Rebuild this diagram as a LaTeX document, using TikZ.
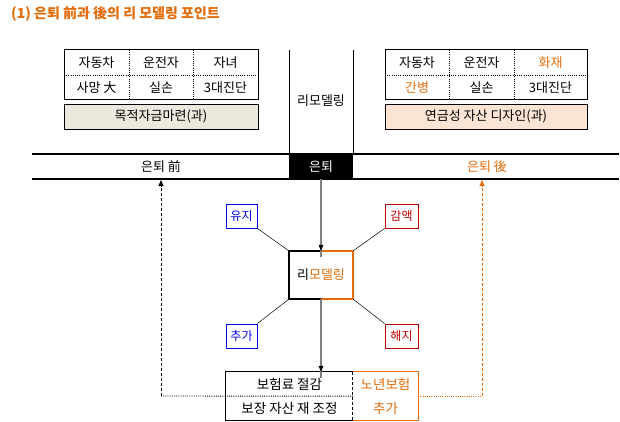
\documentclass[tikz,border=0pt]{standalone}
\usepackage{fontspec}
\setmainfont{Noto Sans CJK KR}
\usetikzlibrary{arrows.meta}
\definecolor{orng}{RGB}{228,108,10}
\definecolor{blu}{RGB}{0,0,230}
\definecolor{rd}{RGB}{192,0,0}
\definecolor{beige}{RGB}{236,233,220}
\definecolor{peach}{RGB}{252,228,212}
\definecolor{gline}{RGB}{128,128,128}
\tikzset{
  every node/.style={font=\fontsize{13}{15}\selectfont, inner sep=0pt},
  big/.style={font=\fontsize{13.5}{15}\selectfont},
  cell/.style={minimum width=64pt, minimum height=25pt},
  band/.style={draw=black, line width=0.9pt, minimum width=194pt, minimum height=25pt},
  tag/.style={draw, line width=0.9pt, minimum width=31pt, minimum height=24pt, font=\fontsize{12}{14}\selectfont},
  thin/.style={line width=0.5pt},
  tip/.style={-{Triangle[length=6pt,width=5pt]}},
  dsh/.style={dash pattern=on 3pt off 2pt, line width=0.8pt},
  dtt/.style={dash pattern=on 1pt off 1.2pt, line width=0.9pt},
}
\begin{document}
\begin{tikzpicture}[x=1pt,y=-1pt]
\useasboundingbox (0,0) rectangle (620,422);
% title
\node[anchor=west, font=\fontsize{14}{16}\selectfont\bfseries, text=orng] (title) at (11,14) {(1)\ 은퇴 前과 後의 리 모델링 포인트};

% left table
\node[cell] (l11) at (96.5,62.5) {자동차};
\node[cell] (l12) at (161,62.5) {운전자};
\node[cell] (l13) at (225.5,62.5) {자녀};
\node[cell] (l21) at (96.5,87.5) {사망 大};
\node[cell] (l22) at (161,87.5) {실손};
\node[cell] (l23) at (225.5,87.5) {3대진단};
\draw[line width=1pt] (64,50) rectangle (258,100);
\draw[dtt] (64,75) -- (258,75);
\draw[dtt] (129,50) -- (129,100);
\draw[dtt] (193,50) -- (193,100);
\node[band, fill=beige] (lband) at (161,116.5) {목적자금마련(과)};

% right table
\node[cell] (r11) at (417,62.5) {자동차};
\node[cell] (r12) at (481.5,62.5) {운전자};
\node[cell, text=orng] (r13) at (550.5,62.5) {화재};
\node[cell, text=orng] (r21) at (417,87.5) {간병};
\node[cell] (r22) at (481.5,87.5) {실손};
\node[cell] (r23) at (550.5,87.5) {3대진단};
\draw[line width=1pt] (385,50) rectangle (587,100);
\draw[dtt] (385,75) -- (587,75);
\draw[dtt] (449,50) -- (449,100);
\draw[dtt] (514,50) -- (514,100);
\node[band, fill=peach, minimum width=202pt] (rband) at (486,116.5) {연금성 자산 디자인(과)};

% middle column
\draw[line width=1pt] (289,50) -- (289,154);
\draw[line width=1pt] (353,50) -- (353,154);
\node (mid) at (321,101) {리모델링};

% timeline
\draw[line width=1.1pt] (32,154) -- (619,154);
\draw[line width=1.1pt] (32,179) -- (619,179);
\node[fill=black, text=white, minimum width=64pt, minimum height=25pt] (rt) at (321,166.5) {은퇴};
\node (bf) at (161,167) {은퇴 前};
\node[text=orng] (af) at (487,167) {은퇴 後};

% remodel box
\node[minimum width=64pt, minimum height=48pt] (rm) at (321,275) {리\textcolor{orng}{모델링}};
\draw[line width=1.5pt] (rm.north) -- (rm.north west) -- (rm.south west) -- (rm.south);
\draw[line width=1.5pt, orng] (rm.north) -- (rm.north east) -- (rm.south east) -- (rm.south);

% tags
\node[tag, draw=blu, text=blu] (yj) at (241.5,216) {유지};
\node[tag, draw=blu, text=blu] (ch) at (241.5,336) {추가};
\node[tag, draw=rd, text=rd, minimum width=33pt] (ga) at (401.5,216) {감액};
\node[tag, draw=rd, text=rd, minimum width=33pt] (hj) at (401.5,336) {해지};
\draw[thin] (yj.south east) -- (rm.north west);
\draw[thin] (ga.south west) -- (rm.north east);
\draw[thin] (ch.north east) -- (rm.south west);
\draw[thin] (hj.north west) -- (rm.south east);

% lower box
\node[big, minimum width=127pt, minimum height=24pt] (lb1) at (289.5,384) {보험료 절감};
\node[big, minimum width=127pt, minimum height=24pt] (lb2) at (289.5,408) {보장 자산 재 조정};
\node[minimum width=65pt, minimum height=48pt, text=orng, align=center, font=\fontsize{13.5}{24}\selectfont] (lbr) at (385.5,396) {노년보험\\추가};
\draw[line width=1pt] (lb1.north east) -- (lb1.north west) -- (lb2.south west) -- (lb2.south east);
\draw[line width=1pt, orng] (lbr.north west) -- (lbr.north east) -- (lbr.south east) -- (lbr.south west);
\draw[dsh] (lbr.north west) -- (lbr.south west);

% gray arrows
\coordinate (lbt) at (rm.south |- lb1.north);
\draw[gline, line width=1.4pt] (rt.south) -- ([yshift=-6pt]rm.north);
\fill (rm.north) -- ++(-2.5,-6) -- ++(5,0) -- cycle;
\draw[gline, line width=1.4pt] (rm.south) -- ([yshift=-6pt]lbt);
\fill (lbt) -- ++(-2.5,-6) -- ++(5,0) -- cycle;

% return arrows
\coordinate (cl) at (161,396);
\coordinate (clt) at (161,180);
\coordinate (cr) at (482,396);
\coordinate (crt) at (482,180);
\draw[dtt] (lb1.south east) -- (cl);
\draw[dsh, tip] (cl) -- (clt);
\draw[dtt, orng] (lbr.east |- cr) -- (cr);
\draw[dsh, orng, tip] (cr) -- (crt);
\end{tikzpicture}
\end{document}
